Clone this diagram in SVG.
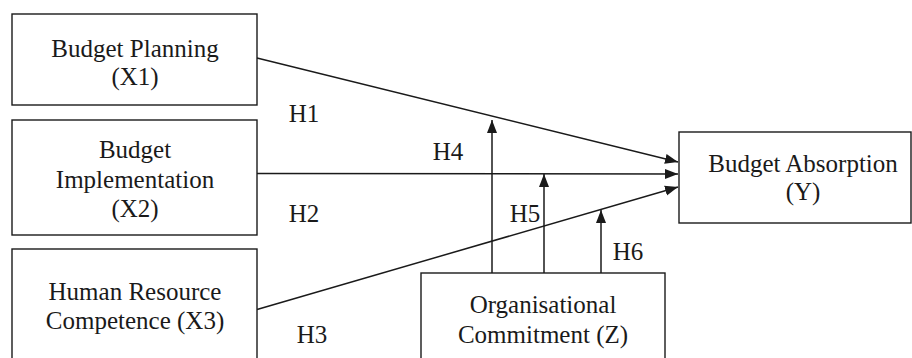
<svg xmlns="http://www.w3.org/2000/svg" width="912" height="358" viewBox="0 0 912 358">
<style>
.box{fill:#fff;stroke:#1a1a1a;stroke-width:1.4}
.t{font-family:"Liberation Serif","Times New Roman",serif;font-size:25px;fill:#1a1a1a;text-anchor:middle}
.c{fill:none;stroke:#1a1a1a;stroke-width:1.5}
</style>
<defs>
<marker id="ah" markerUnits="userSpaceOnUse" markerWidth="14" markerHeight="12" viewBox="0 0 14 12" refX="13" refY="6" orient="auto">
<path d="M0,1 L13,6 L0,11 Z" fill="#1a1a1a"/>
</marker>
</defs>
<rect width="912" height="358" fill="#fff"/>
<g id="connectors">
<line class="c" x1="257" y1="58" x2="678" y2="162" marker-end="url(#ah)"/>
<line class="c" x1="257" y1="173.5" x2="678" y2="174" marker-end="url(#ah)"/>
<line class="c" x1="257" y1="309.5" x2="678" y2="187" marker-end="url(#ah)"/>
<line class="c" x1="492" y1="273" x2="492" y2="120" marker-end="url(#ah)"/>
<line class="c" x1="544" y1="273" x2="544" y2="174" marker-end="url(#ah)"/>
<line class="c" x1="601" y1="273" x2="601" y2="210" marker-end="url(#ah)"/>
<text class="t" x="304" y="122">H1</text>
<text class="t" x="448" y="160">H4</text>
<text class="t" x="304" y="222">H2</text>
<text class="t" x="525" y="222">H5</text>
<text class="t" x="628" y="260">H6</text>
<text class="t" x="312" y="343">H3</text>
</g>
<g id="x1">
<rect class="box" x="12" y="14" width="245" height="91"/>
<text class="t" x="135" y="57">Budget Planning</text>
<text class="t" x="135" y="85">(X1)</text>
</g>
<g id="x2">
<rect class="box" x="12" y="120" width="245" height="115"/>
<text class="t" x="135" y="158">Budget</text>
<text class="t" x="135" y="188">Implementation</text>
<text class="t" x="135" y="217">(X2)</text>
</g>
<g id="x3">
<rect class="box" x="12" y="249" width="245" height="120"/>
<text class="t" x="135" y="300">Human Resource</text>
<text class="t" x="135" y="329">Competence (X3)</text>
</g>
<g id="z">
<rect class="box" x="421" y="273" width="244" height="100"/>
<text class="t" x="543" y="313">Organisational</text>
<text class="t" x="543" y="343">Commitment (Z)</text>
</g>
<g id="y">
<rect class="box" x="679" y="132" width="232" height="91"/>
<text class="t" x="803" y="172">Budget Absorption</text>
<text class="t" x="803" y="200">(Y)</text>
</g>
</svg>
